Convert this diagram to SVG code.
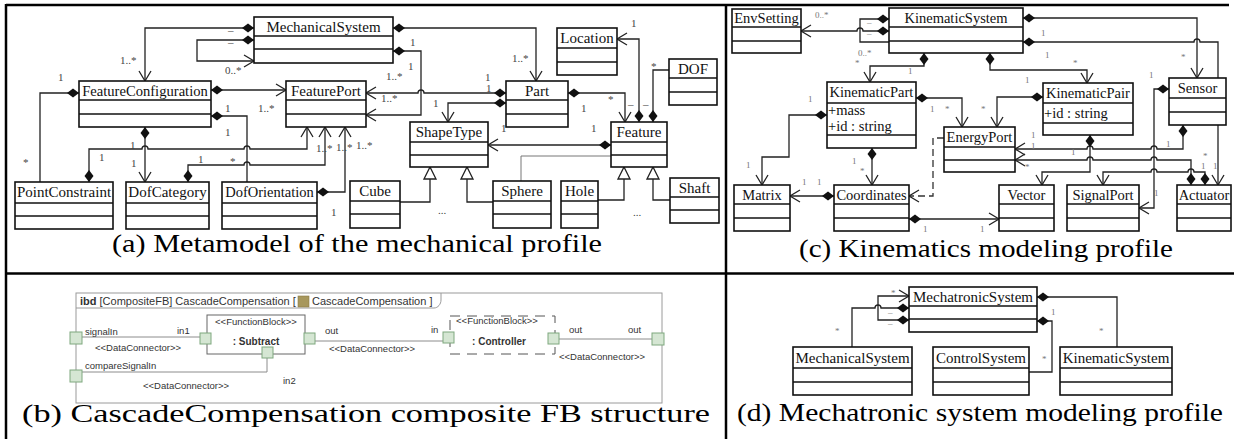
<svg xmlns="http://www.w3.org/2000/svg" width="1234" height="439" viewBox="0 0 1234 439">
<defs>
<style>
.uml rect{fill:#fff;stroke:#111;stroke-width:1.6}
.uml line{stroke:#111;stroke-width:1.6}
.nm{font-family:"Liberation Serif","Times New Roman",serif;font-size:15px;fill:#111;text-anchor:middle}
.nc{font-family:"Liberation Serif","Times New Roman",serif;font-size:14.5px;fill:#111;text-anchor:middle}
.at{font-family:"Liberation Serif","Times New Roman",serif;font-size:14.5px;fill:#111}
.c{fill:none;stroke:#222;stroke-width:1.3}
.cd{fill:none;stroke:#333;stroke-width:1.3;stroke-dasharray:7 4}
.cg{fill:none;stroke:#777;stroke-width:1}
.ml{font-family:"Liberation Serif","Times New Roman",serif;font-size:11px;fill:#444}
.ms{font-family:"Liberation Serif","Times New Roman",serif;font-size:9px;fill:#777}
.cap{font-family:"Liberation Serif","Times New Roman",serif;font-size:26px;fill:#000}
.ib{font-family:"Liberation Sans",Arial,sans-serif;font-size:9.5px;fill:#333}
.port{fill:#d5e6d3;stroke:#7ea87e;stroke-width:1}
.bl{fill:none;stroke:#8c8c8c;stroke-width:1}
.frame{stroke:#000;stroke-width:2.5;fill:none}
</style>
<marker id="dia" markerUnits="userSpaceOnUse" markerWidth="14" markerHeight="10" refX="0" refY="4.5" orient="auto" overflow="visible"><path d="M0,4.5 L6,0 L12,4.5 L6,9 Z" fill="#111"/></marker>
<marker id="arr" markerUnits="userSpaceOnUse" markerWidth="12" markerHeight="14" refX="10" refY="6" orient="auto" overflow="visible"><path d="M0,0 L10,6 L0,12" fill="none" stroke="#222" stroke-width="1.3"/></marker>
<marker id="gen" markerUnits="userSpaceOnUse" markerWidth="14" markerHeight="14" refX="12" refY="6" orient="auto" overflow="visible"><path d="M0,0 L12,6 L0,12 Z" fill="#fff" stroke="#222" stroke-width="1.3"/></marker>
</defs>
<rect width="1234" height="439" fill="#fff"/>

<g id="frame">
<line class="frame" x1="6" y1="5" x2="1229" y2="5"/>
<line class="frame" x1="6" y1="4" x2="6" y2="439"/>
<line class="frame" x1="726" y1="4" x2="726" y2="439"/>
<line class="frame" x1="6" y1="273.5" x2="1234" y2="273.5"/>
</g>

<g id="connectors">
<!-- panel a -->
<path class="c" d="M254,28 L145,28 L145,81" marker-start="url(#dia)" marker-end="url(#arr)"/>
<path class="c" d="M254,40 L197,40 L197,61 L254,61" marker-start="url(#dia)" marker-end="url(#arr)"/>
<path class="c" d="M211,90 L286,90" marker-start="url(#dia)" marker-end="url(#arr)"/>
<path class="c" d="M211,116 L247,116 L247,182" marker-start="url(#dia)"/>
<path class="c" d="M145,127 L145,182" marker-start="url(#dia)" marker-end="url(#arr)"/>
<path class="c" d="M89,182 L89,149 L142,149 A3,3 0 0 1 148,149 L244,149 A3,3 0 0 1 250,149 L307,149 L307,127" marker-start="url(#dia)" marker-end="url(#arr)"/>
<path class="c" d="M79,93 L40,93 L40,182" marker-start="url(#dia)"/>
<path class="c" d="M188,182 L188,165 L244,165 A3,3 0 0 1 250,165 L325,165 L325,127" marker-start="url(#dia)" marker-end="url(#arr)"/>
<path class="c" d="M317,192 L345,192 L345,127" marker-start="url(#dia)" marker-end="url(#arr)"/>
<path class="c" d="M506,93 L424,93 A3,3 0 0 0 418,93 L366,93" marker-start="url(#dia)" marker-end="url(#arr)"/>
<path class="c" d="M393,51 L421,51 L421,115 L366,115" marker-start="url(#dia)" marker-end="url(#arr)"/>
<path class="c" d="M393,28 L536,28 L536,81" marker-start="url(#dia)" marker-end="url(#arr)"/>
<path class="c" d="M506,103 L448,103 L448,122" marker-start="url(#dia)" marker-end="url(#arr)"/>
<path class="c" d="M568,93 L625,93 L625,122" marker-start="url(#dia)" marker-end="url(#arr)"/>
<path class="c" d="M611,145 L488,145" marker-start="url(#dia)" marker-end="url(#arr)"/>
<path class="c" d="M639,122 L639,39 L617,39" marker-start="url(#dia)" marker-end="url(#arr)"/>
<path class="c" d="M653,122 L653,70 L669,70" marker-start="url(#dia)"/>
<path class="c" d="M400,202 L430,202 L430,167" marker-end="url(#gen)"/>
<path class="c" d="M493,202 L467,202 L467,167" marker-end="url(#gen)"/>
<path class="c" d="M598,200 L624,200 L624,167" marker-end="url(#gen)"/>
<path class="c" d="M670,200 L653,200 L653,167" marker-end="url(#gen)"/>
<path class="cg" d="M521,181 L521,156 L611,156"/>
<!-- panel c -->
<path class="c" d="M889,19 L860,19 L860,42 L889,42" marker-start="url(#dia)"/>
<path class="c" d="M889,31 L863,31 A3,3 0 0 0 857,31 L801,31" marker-start="url(#dia)" marker-end="url(#arr)"/>
<path class="c" d="M924,53 L924,66 L870,66 L870,82" marker-start="url(#dia)" marker-end="url(#arr)"/>
<path class="c" d="M990,53 L990,70 L1087,70 L1087,83" marker-start="url(#dia)" marker-end="url(#arr)"/>
<path class="c" d="M1023,18 L1197,18 L1197,78" marker-start="url(#dia)" marker-end="url(#arr)"/>
<path class="c" d="M1023,42 L1194,42 A3,3 0 0 1 1200,42 L1218,42 L1218,185" marker-start="url(#dia)" marker-end="url(#arr)"/>
<path class="c" d="M916,98 L962,98 L962,127" marker-start="url(#dia)" marker-end="url(#arr)"/>
<path class="c" d="M1043,97 L997,97 L997,127" marker-start="url(#dia)" marker-end="url(#arr)"/>
<path class="c" d="M827,115 L789,115 L789,157 L762,157 L762,185" marker-start="url(#dia)" marker-end="url(#arr)"/>
<path class="c" d="M872,148 L872,185" marker-start="url(#dia)" marker-end="url(#arr)"/>
<path class="c" d="M834,196 L790,196" marker-start="url(#dia)" marker-end="url(#arr)"/>
<path class="cd" d="M944,138 L933,138 L933,196 L909,196" marker-end="url(#arr)"/>
<path class="c" d="M909,219 L999,219" marker-start="url(#dia)" marker-end="url(#arr)"/>
<path class="c" d="M1183,125 L1183,149 L1157,149 A3,3 0 0 0 1151,149 L1093,149 A3,3 0 0 0 1087,149 L1015,149" marker-start="url(#dia)" marker-end="url(#arr)"/>
<path class="c" d="M1191,185 L1191,160 L1157,160 A3,3 0 0 0 1151,160 L1093,160 A3,3 0 0 0 1087,160 L1015,160" marker-start="url(#dia)" marker-end="url(#arr)"/>
<path class="c" d="M1090,135 L1090,172 L1042,172 L1042,185" marker-start="url(#dia)" marker-end="url(#arr)"/>
<path class="c" d="M1169,89 L1154,89 L1154,208 L1139,208" marker-start="url(#dia)" marker-end="url(#arr)"/>
<path class="c" d="M1205,185 L1205,172 L1194,172 A3,3 0 0 0 1188,172 L1157,172 A3,3 0 0 0 1151,172 L1103,172 L1103,185" marker-start="url(#dia)" marker-end="url(#arr)"/>
<!-- panel d -->
<path class="c" d="M909,308 L881,308 A3,3 0 0 0 875,308 L852,308 L852,347" marker-start="url(#dia)"/>
<path class="c" d="M909,320 L878,320 L878,296 L909,296" marker-start="url(#dia)" marker-end="url(#arr)"/>
<path class="c" d="M1037,297 L1117,297 L1117,347" marker-start="url(#dia)"/>
<path class="c" d="M1037,321 L1052,321 L1052,372 L1029,372" marker-start="url(#dia)"/>
<!-- panel b -->
<path class="bl" d="M82,337 L201,337"/>
<path class="bl" d="M82,372 L267,372 L267,358"/>
<path class="bl" d="M315,341 L443,341"/>
<path class="bl" d="M559,339 L652,339"/>
</g>

<g id="multiplicities-a">
<text class="ml" x="228" y="34">–</text>
<text class="ml" x="228" y="46">–</text>
<text class="ml" x="120" y="64">1..*</text>
<text class="ml" x="225" y="74">0..*</text>
<text class="ml" x="58" y="81">1</text>
<text class="ml" x="225" y="112">1</text>
<text class="ml" x="258" y="112">1..*</text>
<text class="ml" x="225" y="136">1</text>
<text class="ml" x="130" y="149">1</text>
<text class="ml" x="316" y="152">1..*</text>
<text class="ml" x="336" y="151">1..*</text>
<text class="ml" x="356" y="149">1..*</text>
<text class="ml" x="23" y="166">*</text>
<text class="ml" x="99" y="161">1</text>
<text class="ml" x="131" y="167">1</text>
<text class="ml" x="198" y="163">1</text>
<text class="ml" x="230" y="165">*</text>
<text class="ml" x="331" y="216">1</text>
<text class="ml" x="410" y="46">1</text>
<text class="ml" x="408" y="70">1</text>
<text class="ml" x="386" y="80">1..*</text>
<text class="ml" x="381" y="102">1..*</text>
<text class="ml" x="512" y="62">1..*</text>
<text class="ml" x="485" y="81">1</text>
<text class="ml" x="486" y="92">1</text>
<text class="ml" x="433" y="107">1</text>
<text class="ml" x="501" y="132">1</text>
<text class="ml" x="608" y="103">*</text>
<text class="ml" x="581" y="112">1</text>
<text class="ml" x="591" y="132">1</text>
<text class="ml" x="631" y="27">1</text>
<text class="ml" x="651" y="70">*</text>
<text class="ml" x="628" y="108">–</text>
<text class="ml" x="643" y="108">–</text>
<text class="ml" x="438" y="214">...</text>
<text class="ml" x="633" y="216">...</text>
</g>

<g id="multiplicities-c">
<text class="ms" x="815" y="18">0..*</text>
<text class="ms" x="867" y="25">–</text>
<text class="ms" x="867" y="36">–</text>
<text class="ms" x="858" y="56">0..*</text>
<text class="ms" x="855" y="66">*</text>
<text class="ms" x="908" y="74">1</text>
<text class="ms" x="1041" y="36">1</text>
<text class="ms" x="1045" y="58">1</text>
<text class="ms" x="1073" y="66">*</text>
<text class="ms" x="1025" y="83">1</text>
<text class="ms" x="1149" y="78">1</text>
<text class="ms" x="1181" y="60">*</text>
<text class="ms" x="981" y="112">*</text>
<text class="ms" x="808" y="102">1</text>
<text class="ms" x="930" y="112">1</text>
<text class="ms" x="945" y="112">*</text>
<text class="ms" x="746" y="168">1</text>
<text class="ms" x="852" y="164">1</text>
<text class="ms" x="860" y="174">*</text>
<text class="ms" x="802" y="185">1</text>
<text class="ms" x="817" y="185">1</text>
<text class="ms" x="1031" y="138">1</text>
<text class="ms" x="1031" y="149">1</text>
<text class="ms" x="1071" y="155">1</text>
<text class="ms" x="1166" y="147">1</text>
<text class="ms" x="1203" y="159">*</text>
<text class="ms" x="1201" y="169">1</text>
<text class="ms" x="1213" y="169">1</text>
<text class="ms" x="1025" y="170">*</text>
<text class="ms" x="1154" y="196">1</text>
<text class="ms" x="923" y="232">1</text>
<text class="ms" x="980" y="232">1</text>
</g>

<g id="multiplicities-d">
<text class="ms" x="891" y="296">*</text>
<text class="ms" x="888" y="315">–</text>
<text class="ms" x="888" y="326">–</text>
<text class="ms" x="835" y="334">*</text>
<text class="ms" x="1051" y="315">1</text>
<text class="ms" x="1099" y="334">*</text>
<text class="ms" x="1042" y="362">*</text>
</g>

<!-- panel a nodes -->
<g id="MechanicalSystem" class="uml"><rect x="254" y="17" width="139" height="46"/><line x1="254" y1="36" x2="393" y2="36"/><line x1="254" y1="49" x2="393" y2="49"/><text class="nm" x="323.5" y="32">MechanicalSystem</text></g>
<g id="FeatureConfiguration" class="uml"><rect x="79" y="81" width="132" height="46"/><line x1="79" y1="100" x2="211" y2="100"/><line x1="79" y1="114" x2="211" y2="114"/><text class="nm" x="145" y="96" style="font-size:14.6px">FeatureConfiguration</text></g>
<g id="FeaturePort" class="uml"><rect x="286" y="81" width="80" height="46"/><line x1="286" y1="100" x2="366" y2="100"/><line x1="286" y1="114" x2="366" y2="114"/><text class="nm" x="326" y="96">FeaturePort</text></g>
<g id="Part" class="uml"><rect x="506" y="81" width="62" height="46"/><line x1="506" y1="100" x2="568" y2="100"/><line x1="506" y1="114" x2="568" y2="114"/><text class="nm" x="537" y="96">Part</text></g>
<g id="Location" class="uml"><rect x="557" y="28" width="60" height="47"/><line x1="557" y1="48" x2="617" y2="48"/><line x1="557" y1="62" x2="617" y2="62"/><text class="nm" x="587" y="43">Location</text></g>
<g id="DOF" class="uml"><rect x="669" y="59" width="48" height="46"/><line x1="669" y1="78" x2="717" y2="78"/><line x1="669" y1="92" x2="717" y2="92"/><text class="nm" x="693" y="74">DOF</text></g>
<g id="ShapeType" class="uml"><rect x="410" y="122" width="78" height="45"/><line x1="410" y1="142" x2="488" y2="142"/><line x1="410" y1="155" x2="488" y2="155"/><text class="nm" x="449" y="137">ShapeType</text></g>
<g id="Feature" class="uml"><rect x="611" y="122" width="56" height="45"/><line x1="611" y1="142" x2="667" y2="142"/><line x1="611" y1="155" x2="667" y2="155"/><text class="nm" x="639" y="137">Feature</text></g>
<g id="PointConstraint" class="uml"><rect x="15" y="182" width="98" height="47"/><line x1="15" y1="203" x2="113" y2="203"/><line x1="15" y1="216" x2="113" y2="216"/><text class="nm" x="64" y="197">PointConstraint</text></g>
<g id="DofCategory" class="uml"><rect x="126" y="182" width="83" height="47"/><line x1="126" y1="203" x2="209" y2="203"/><line x1="126" y1="216" x2="209" y2="216"/><text class="nm" x="167.5" y="197">DofCategory</text></g>
<g id="DofOrientation" class="uml"><rect x="222" y="182" width="95" height="47"/><line x1="222" y1="203" x2="317" y2="203"/><line x1="222" y1="216" x2="317" y2="216"/><text class="nm" x="269.5" y="197" style="font-size:14.5px">DofOrientation</text></g>
<g id="Cube" class="uml"><rect x="350" y="181" width="50" height="47"/><line x1="350" y1="201" x2="400" y2="201"/><line x1="350" y1="214" x2="400" y2="214"/><text class="nm" x="375" y="196">Cube</text></g>
<g id="Sphere" class="uml"><rect x="493" y="181" width="58" height="47"/><line x1="493" y1="201" x2="551" y2="201"/><line x1="493" y1="214" x2="551" y2="214"/><text class="nm" x="522" y="196">Sphere</text></g>
<g id="Hole" class="uml"><rect x="561" y="181" width="37" height="47"/><line x1="561" y1="201" x2="598" y2="201"/><line x1="561" y1="214" x2="598" y2="214"/><text class="nm" x="579.5" y="196">Hole</text></g>
<g id="Shaft" class="uml"><rect x="670" y="178" width="49" height="45"/><line x1="670" y1="197" x2="719" y2="197"/><line x1="670" y1="210" x2="719" y2="210"/><text class="nm" x="694.5" y="193">Shaft</text></g>

<!-- panel c nodes -->
<g id="EnvSetting" class="uml"><rect x="732" y="9" width="69" height="44"/><line x1="732" y1="27" x2="801" y2="27"/><line x1="732" y1="41" x2="801" y2="41"/><text class="nc" x="766.5" y="23">EnvSetting</text></g>
<g id="KinematicSystem" class="uml"><rect x="889" y="8" width="134" height="45"/><line x1="889" y1="27" x2="1023" y2="27"/><line x1="889" y1="41" x2="1023" y2="41"/><text class="nc" x="956" y="23">KinematicSystem</text></g>
<g id="KinematicPart" class="uml"><rect x="827" y="82" width="89" height="66"/><line x1="827" y1="103" x2="916" y2="103"/><line x1="827" y1="135" x2="916" y2="135"/><text class="nc" x="871.5" y="97">KinematicPart</text><text class="at" x="828" y="115">+mass</text><text class="at" x="828" y="131">+id : string</text></g>
<g id="KinematicPair" class="uml"><rect x="1043" y="83" width="90" height="52"/><line x1="1043" y1="103" x2="1133" y2="103"/><line x1="1043" y1="123" x2="1133" y2="123"/><text class="nc" x="1088" y="98">KinematicPair</text><text class="at" x="1044" y="118">+id : string</text></g>
<g id="Sensor" class="uml"><rect x="1169" y="78" width="57" height="47"/><line x1="1169" y1="98" x2="1226" y2="98"/><line x1="1169" y1="112" x2="1226" y2="112"/><text class="nc" x="1197.5" y="93">Sensor</text></g>
<g id="EnergyPort" class="uml"><rect x="944" y="127" width="71" height="45"/><line x1="944" y1="147" x2="1015" y2="147"/><line x1="944" y1="160" x2="1015" y2="160"/><text class="nc" x="979.5" y="142">EnergyPort</text></g>
<g id="Matrix" class="uml"><rect x="734" y="185" width="56" height="46"/><line x1="734" y1="204" x2="790" y2="204"/><line x1="734" y1="218" x2="790" y2="218"/><text class="nc" x="762" y="200">Matrix</text></g>
<g id="Coordinates" class="uml"><rect x="834" y="185" width="75" height="46"/><line x1="834" y1="204" x2="909" y2="204"/><line x1="834" y1="218" x2="909" y2="218"/><text class="nc" x="871.5" y="200">Coordinates</text></g>
<g id="Vector" class="uml"><rect x="999" y="185" width="55" height="46"/><line x1="999" y1="204" x2="1054" y2="204"/><line x1="999" y1="218" x2="1054" y2="218"/><text class="nc" x="1026.5" y="200">Vector</text></g>
<g id="SignalPort" class="uml"><rect x="1067" y="185" width="72" height="46"/><line x1="1067" y1="204" x2="1139" y2="204"/><line x1="1067" y1="218" x2="1139" y2="218"/><text class="nc" x="1103" y="200">SignalPort</text></g>
<g id="Actuator" class="uml"><rect x="1177" y="185" width="54" height="46"/><line x1="1177" y1="204" x2="1231" y2="204"/><line x1="1177" y1="218" x2="1231" y2="218"/><text class="nc" x="1204" y="200">Actuator</text></g>

<!-- panel d nodes -->
<g id="MechatronicSystem" class="uml"><rect x="909" y="287" width="128" height="45"/><line x1="909" y1="306" x2="1037" y2="306"/><line x1="909" y1="319" x2="1037" y2="319"/><text class="nm" x="973" y="302">MechatronicSystem</text></g>
<g id="MechanicalSystem-d" class="uml"><rect x="793" y="347" width="119" height="48"/><line x1="793" y1="368" x2="912" y2="368"/><line x1="793" y1="382" x2="912" y2="382"/><text class="nm" x="852.5" y="363">MechanicalSystem</text></g>
<g id="ControlSystem" class="uml"><rect x="933" y="347" width="96" height="48"/><line x1="933" y1="368" x2="1029" y2="368"/><line x1="933" y1="382" x2="1029" y2="382"/><text class="nm" x="981" y="363">ControlSystem</text></g>
<g id="KinematicSystem-d" class="uml"><rect x="1060" y="347" width="112" height="48"/><line x1="1060" y1="368" x2="1172" y2="368"/><line x1="1060" y1="382" x2="1172" y2="382"/><text class="nm" x="1116" y="363">KinematicSystem</text></g>

<!-- panel b -->
<g id="ibd-frame">
<rect x="76" y="293" width="586" height="110" fill="none" stroke="#9a9a9a" stroke-width="1"/>
<path d="M76,308 H434 C438,308 441,304 441,300 V293" fill="none" stroke="#9a9a9a" stroke-width="1"/>
<text class="ib" x="80" y="305" style="font-size:11px"><tspan font-weight="bold">ibd</tspan> [CompositeFB] CascadeCompensation [</text>
<rect x="298" y="296" width="11" height="11" fill="#a7975c" stroke="#8a7b45" stroke-width="0.6"/>
<text class="ib" x="312" y="305" style="font-size:11px">CascadeCompensation ]</text>
</g>
<g id="Subtract">
<rect x="207" y="315" width="98" height="39" fill="#fff" stroke="#666" stroke-width="1"/>
<text class="ib" x="256" y="325" text-anchor="middle">&lt;&lt;FunctionBlock&gt;&gt;</text>
<text class="ib" x="256" y="345" text-anchor="middle" font-weight="bold" style="font-size:10px">: Subtract</text>
<rect class="port" x="200" y="333" width="11" height="11"/>
<rect class="port" x="304" y="333" width="11" height="11"/>
<rect class="port" x="262" y="347" width="11" height="11"/>
</g>
<g id="Controller">
<rect x="450" y="316" width="105" height="38" fill="#fff" stroke="#555" stroke-width="1" stroke-dasharray="10 7"/>
<text class="ib" x="497" y="324" text-anchor="middle">&lt;&lt;FunctionBlock&gt;&gt;</text>
<text class="ib" x="499" y="345" text-anchor="middle" font-weight="bold" style="font-size:10px">: Controller</text>
<rect class="port" x="443" y="332" width="11" height="11"/>
<rect class="port" x="548" y="333" width="11" height="11"/>
</g>
<g id="boundary-ports">
<rect class="port" x="70" y="332" width="12" height="12"/>
<rect class="port" x="70" y="370" width="12" height="12"/>
<rect class="port" x="652" y="333" width="12" height="12"/>
</g>
<g id="ibd-labels">
<text class="ib" x="85" y="335">signalIn</text>
<text class="ib" x="177" y="334">in1</text>
<text class="ib" x="95" y="351">&lt;&lt;DataConnector&gt;&gt;</text>
<text class="ib" x="85" y="369">compareSignalIn</text>
<text class="ib" x="283" y="384">in2</text>
<text class="ib" x="143" y="389">&lt;&lt;DataConnector&gt;&gt;</text>
<text class="ib" x="325" y="334">out</text>
<text class="ib" x="329" y="352">&lt;&lt;DataConnector&gt;&gt;</text>
<text class="ib" x="431" y="333">in</text>
<text class="ib" x="569" y="333">out</text>
<text class="ib" x="628" y="333">out</text>
<text class="ib" x="559" y="360">&lt;&lt;DataConnector&gt;&gt;</text>
</g>

<g id="captions">
<text class="cap" x="112" y="252" textLength="490" lengthAdjust="spacingAndGlyphs">(a) Metamodel of the mechanical profile</text>
<text class="cap" x="799" y="257" textLength="374" lengthAdjust="spacingAndGlyphs">(c) Kinematics modeling profile</text>
<text class="cap" x="22" y="422" textLength="688" lengthAdjust="spacingAndGlyphs">(b) CascadeCompensation composite FB structure</text>
<text class="cap" x="737" y="421" textLength="486" lengthAdjust="spacingAndGlyphs">(d) Mechatronic system modeling profile</text>
</g>
</svg>
